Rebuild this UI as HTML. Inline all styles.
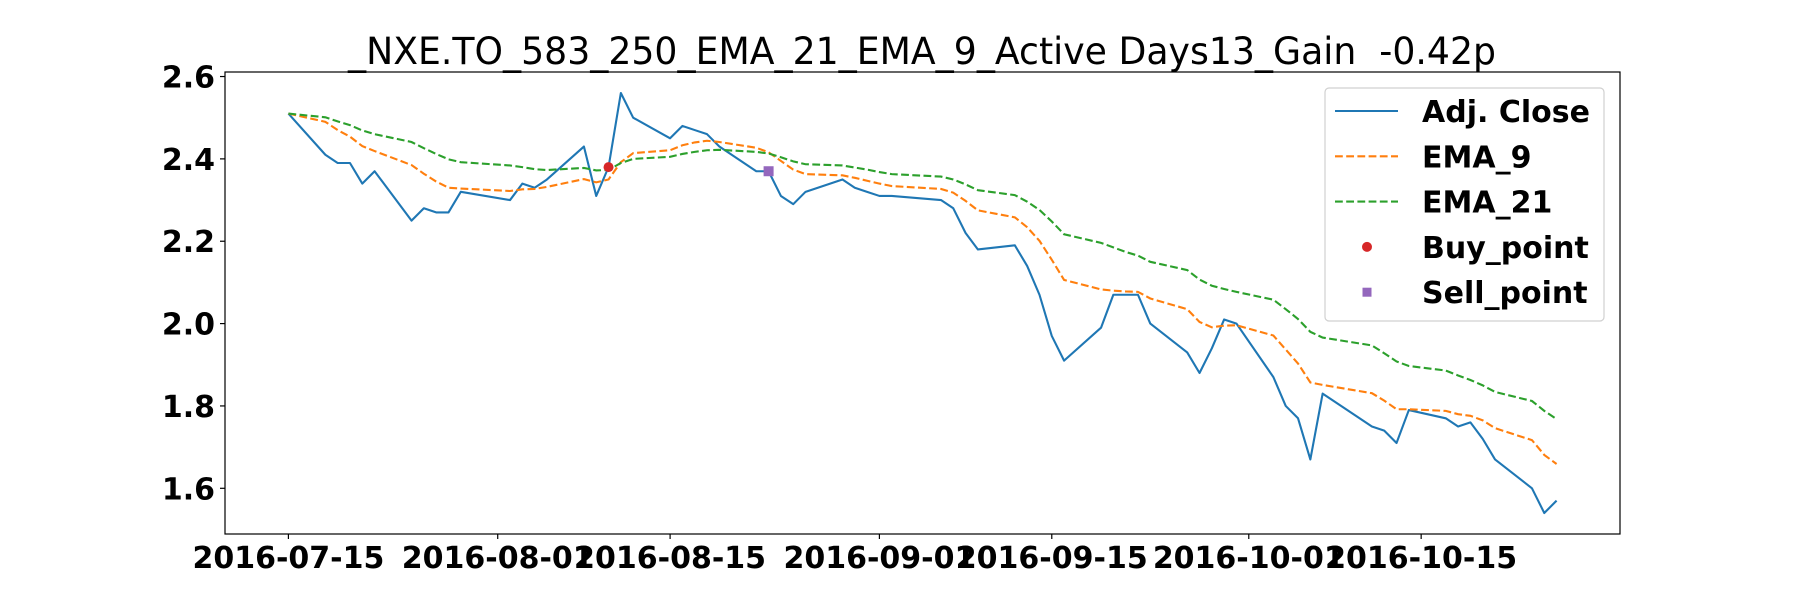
<!DOCTYPE html>
<html><head><meta charset="utf-8"><style>
html,body{margin:0;padding:0;background:#fff;}
svg{display:block;}
text{font-family:"DejaVu Sans","Liberation Sans",sans-serif;}
</style></head><body>
<svg id="chart" width="1800" height="600" viewBox="0 0 1800 600" xmlns="http://www.w3.org/2000/svg">
<rect width="1800" height="600" fill="#fff"/>
<text x="922" y="64" text-anchor="middle" font-size="37" textLength="1148" lengthAdjust="spacingAndGlyphs">_NXE.TO_583_250_EMA_21_EMA_9_Active Days13_Gain&#160; -0.42p</text>
<g id="plot"></g>
</svg>
<script>
const dates = ["2016-07-15","2016-07-18","2016-07-19","2016-07-20","2016-07-21","2016-07-22","2016-07-25","2016-07-26","2016-07-27","2016-07-28","2016-07-29","2016-08-02","2016-08-03","2016-08-04","2016-08-05","2016-08-08","2016-08-09","2016-08-10","2016-08-11","2016-08-12","2016-08-15","2016-08-16","2016-08-17","2016-08-18","2016-08-19","2016-08-22","2016-08-23","2016-08-24","2016-08-25","2016-08-26","2016-08-29","2016-08-30","2016-08-31","2016-09-01","2016-09-02","2016-09-06","2016-09-07","2016-09-08","2016-09-09","2016-09-12","2016-09-13","2016-09-14","2016-09-15","2016-09-16","2016-09-19","2016-09-20","2016-09-21","2016-09-22","2016-09-23","2016-09-26","2016-09-27","2016-09-28","2016-09-29","2016-09-30","2016-10-03","2016-10-04","2016-10-05","2016-10-06","2016-10-07","2016-10-11","2016-10-12","2016-10-13","2016-10-14","2016-10-17","2016-10-18","2016-10-19","2016-10-20","2016-10-21","2016-10-24","2016-10-25","2016-10-26"];
const adjClose = [2.51,2.41,2.39,2.39,2.34,2.37,2.25,2.28,2.27,2.27,2.32,2.30,2.34,2.33,2.35,2.43,2.31,2.38,2.56,2.50,2.45,2.48,2.47,2.46,2.43,2.37,2.37,2.31,2.29,2.32,2.35,2.33,2.32,2.31,2.31,2.30,2.28,2.22,2.18,2.19,2.14,2.07,1.97,1.91,1.99,2.07,2.07,2.07,2.00,1.93,1.88,1.94,2.01,2.00,1.87,1.80,1.77,1.67,1.83,1.75,1.74,1.71,1.79,1.77,1.75,1.76,1.72,1.67,1.60,1.54,1.57];
const ema9 = [2.51,2.49,2.47,2.454,2.431,2.419,2.385,2.364,2.345,2.330,2.328,2.322,2.326,2.327,2.332,2.351,2.343,2.350,2.392,2.414,2.421,2.433,2.440,2.444,2.441,2.427,2.416,2.395,2.374,2.363,2.360,2.354,2.347,2.340,2.334,2.327,2.318,2.298,2.275,2.258,2.234,2.201,2.155,2.106,2.083,2.080,2.078,2.077,2.061,2.035,2.004,1.991,1.995,1.996,1.971,1.937,1.903,1.857,1.851,1.831,1.813,1.792,1.792,1.788,1.780,1.776,1.765,1.746,1.717,1.681,1.659];
const ema21 = [2.51,2.501,2.491,2.482,2.469,2.460,2.441,2.426,2.412,2.399,2.392,2.384,2.380,2.375,2.373,2.378,2.372,2.373,2.390,2.400,2.405,2.412,2.417,2.421,2.422,2.417,2.413,2.404,2.394,2.387,2.384,2.379,2.374,2.368,2.363,2.357,2.350,2.338,2.324,2.312,2.296,2.276,2.248,2.217,2.196,2.185,2.174,2.165,2.150,2.130,2.107,2.092,2.084,2.077,2.058,2.035,2.011,1.980,1.966,1.947,1.928,1.908,1.897,1.886,1.874,1.863,1.850,1.834,1.812,1.788,1.768];
const buyDates = ["2016-08-10"];
const buyValues = [2.38];
const sellDates = ["2016-08-23"];
const sellValues = [2.37];
const xTickLabels = ["2016-07-15","2016-08-01","2016-08-15","2016-09-01","2016-09-15","2016-10-01","2016-10-15"];
const yTickValues = [1.6,1.8,2.0,2.2,2.4,2.6];

const NS = "http://www.w3.org/2000/svg";
const L = 225, R = 1620, T = 72, B = 534;
const day = s => Date.parse(s + "T00:00:00Z") / 86400000;
const dVals = dates.map(day);
const dMin = Math.min(...dVals), dMax = Math.max(...dVals);
const dPad = (dMax - dMin) * 0.05;
const allY = adjClose.concat(ema9, ema21);
const yMinD = Math.min(...allY), yMaxD = Math.max(...allY);
const yPad = (yMaxD - yMinD) * 0.05;
const x0 = dMin - dPad, x1 = dMax + dPad, y0 = yMinD - yPad, y1 = yMaxD + yPad;
const xs = d => L + (d - x0) / (x1 - x0) * (R - L);
const ys = v => B - (v - y0) / (y1 - y0) * (B - T);
const plot = document.getElementById("plot");
function mk(tag, attrs, parent) {
  const e = document.createElementNS(NS, tag);
  for (const k in attrs) e.setAttribute(k, attrs[k]);
  (parent || plot).appendChild(e);
  return e;
}
function pts(vals) { return vals.map((v, i) => xs(dVals[i]).toFixed(2) + "," + ys(v).toFixed(2)).join(" "); }

const clip = mk("clipPath", {id: "clipA"});
mk("rect", {x: L, y: T, width: R - L, height: B - T}, clip);

const lc = mk("polyline", {points: pts(adjClose), fill: "none", stroke: "#1f77b4", "stroke-width": 2.1, "stroke-linejoin": "round", "clip-path": "url(#clipA)"});


const l9 = mk("polyline", {points: pts(ema9), fill: "none", stroke: "#ff7f0e", "stroke-width": 2.1, "stroke-dasharray": "7.8,3.4", "clip-path": "url(#clipA)"});


const l21 = mk("polyline", {points: pts(ema21), fill: "none", stroke: "#2ca02c", "stroke-width": 2.1, "stroke-dasharray": "7.8,3.4", "clip-path": "url(#clipA)"});



buyDates.forEach((d, i) => {
  const c = mk("circle", {cx: xs(day(d)), cy: ys(buyValues[i]), r: 5, fill: "#d62728"});
  
  
});
sellDates.forEach((d, i) => {
  const s = mk("rect", {x: xs(day(d)) - 5, y: ys(sellValues[i]) - 5, width: 10, height: 10, fill: "#9467bd"});
  
  
});

const frame = mk("rect", {x: L, y: T, width: R - L, height: B - T, fill: "none", stroke: "#000", "stroke-width": 1.2});



xTickLabels.forEach(lab => {
  const x = xs(day(lab));
  const tk = mk("line", {x1: x, x2: x, y1: B, y2: B + 5, stroke: "#000", "stroke-width": 1.2});
  
  
  const t = mk("text", {x: x, y: 568, "text-anchor": "middle", "font-size": 30, "font-weight": "bold"});
  t.textContent = lab;
  
  
});
yTickValues.forEach(v => {
  const y = ys(v);
  const tk = mk("line", {x1: L - 5, x2: L, y1: y, y2: y, stroke: "#000", "stroke-width": 1.2});
  
  
  const t = mk("text", {x: L - 10, y: y + 11, "text-anchor": "end", "font-size": 30, "font-weight": "bold"});
  t.textContent = v.toFixed(1);
  
  
});

// legend
const lg = mk("g", {});


mk("rect", {x: 1325, y: 88, width: 279, height: 233, rx: 4, fill: "#fff", "fill-opacity": 0.8, stroke: "#d0d0d0", "stroke-width": 1.2}, lg);
const entries = [
  ["Adj. Close", "line", "#1f77b4", "legend-entry-adj-close"],
  ["EMA_9", "dash", "#ff7f0e", "legend-entry-ema-9"],
  ["EMA_21", "dash", "#2ca02c", "legend-entry-ema-21"],
  ["Buy_point", "circle", "#d62728", "legend-entry-buy-point"],
  ["Sell_point", "square", "#9467bd", "legend-entry-sell-point"]
];
entries.forEach((e, i) => {
  const y = 111 + i * 45.3;
  const g = mk("g", {}, lg);
  
  
  if (e[1] === "line") mk("line", {x1: 1335, x2: 1398, y1: y, y2: y, stroke: e[2], "stroke-width": 2.1}, g);
  else if (e[1] === "dash") mk("line", {x1: 1335, x2: 1398, y1: y, y2: y, stroke: e[2], "stroke-width": 2.1, "stroke-dasharray": "7.8,3.4"}, g);
  else if (e[1] === "circle") mk("circle", {cx: 1367, cy: y, r: 5, fill: e[2]}, g);
  else mk("rect", {x: 1362.5, y: y - 4.5, width: 9, height: 9, fill: e[2]}, g);
  const t = mk("text", {x: 1422, y: y + 11, "font-size": 30, "font-weight": "bold"}, g);
  t.textContent = e[0];
});
</script>
</body></html>
